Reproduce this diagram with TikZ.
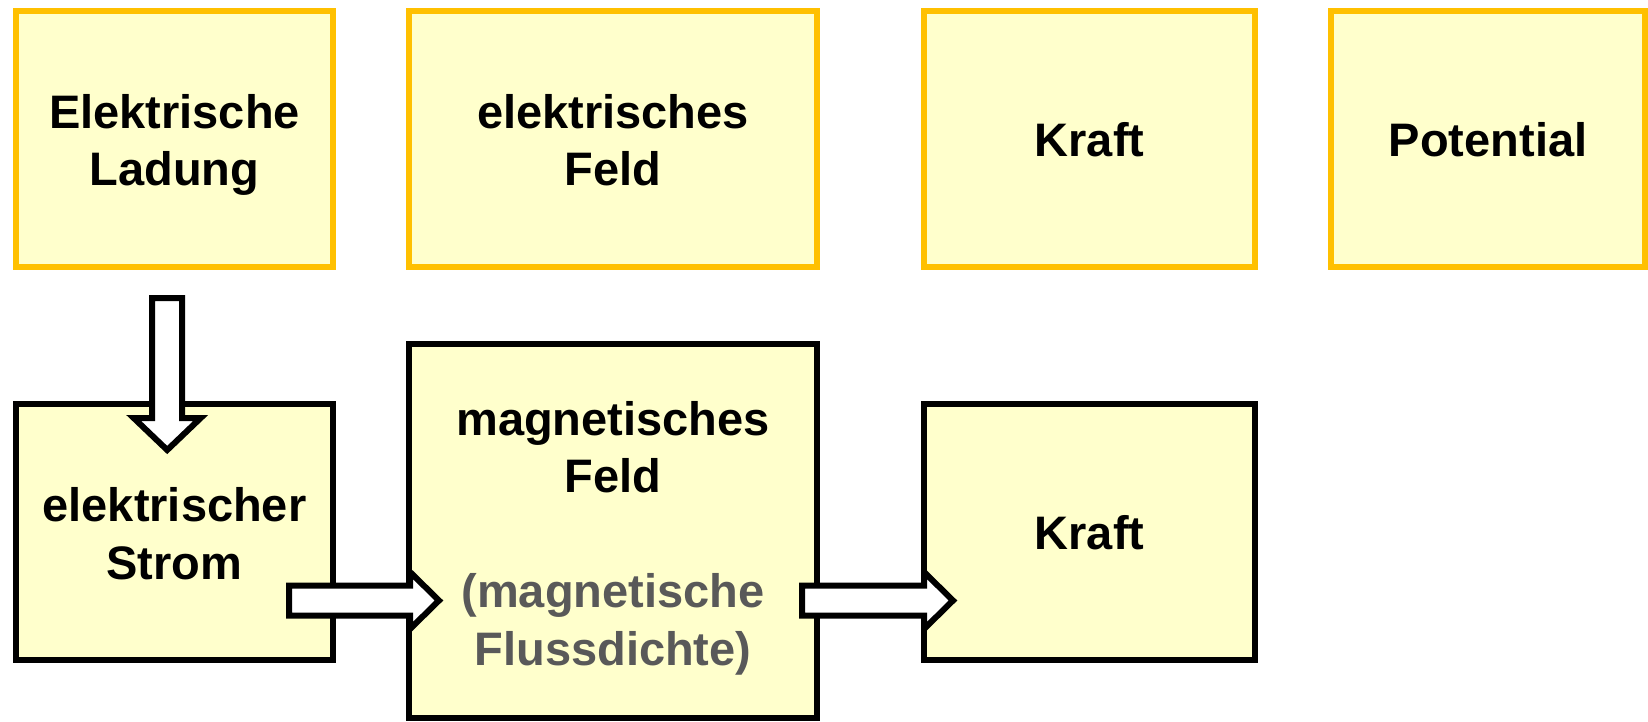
\documentclass[tikz,border=0pt]{standalone}
\usepackage{fontspec}
\setmainfont{Liberation Sans}
\usetikzlibrary{calc}

\definecolor{boxfill}{RGB}{255,255,204}
\definecolor{boxgold}{RGB}{255,192,0}
\definecolor{notegray}{RGB}{89,89,89}

\tikzset{
  basebox/.style={rectangle, fill=boxfill, line width=6pt, outer sep=0pt, inner sep=0pt},
  goldbox/.style={basebox, draw=boxgold},
  blackbox/.style={basebox, draw=black},
  boxtext/.style={font=\fontsize{47}{57.5}\selectfont\bfseries, align=center, inner sep=0pt},
  fatarrow/.style={draw=black, fill=white, line width=6pt, line join=miter},
}

% block arrow pointing right: #1 shaft end, #2 tip (same height)
\newcommand{\rightblockarrow}[2]{%
  \draw[fatarrow] ($(#1)+(0,-15)$) -- ($(#2)+(-29,-15)$) -- ($(#2)+(-29,-28.5)$)
    -- (#2) -- ($(#2)+(-29,28.5)$) -- ($(#2)+(-29,15)$) -- ($(#1)+(0,15)$) -- cycle;}
% block arrow pointing down: #1 shaft end, #2 tip (same x)
\newcommand{\downblockarrow}[2]{%
  \draw[fatarrow] ($(#1)+(-15,0)$) -- ($(#1)+(15,0)$) -- ($(#2)+(15,-32)$)
    -- ($(#2)+(33.5,-32)$) -- (#2) -- ($(#2)+(-33.5,-32)$) -- ($(#2)+(-15,-32)$) -- cycle;}

\begin{document}
\begin{tikzpicture}[x=1pt, y=-1pt]
  \useasboundingbox (0,0) rectangle (1648,721);

  % upper row
  \node[goldbox, minimum width=317pt, minimum height=256pt] (b1) at (174.5,139) {};
  \node[goldbox, minimum width=408pt, minimum height=256pt] (b2) at (613,139) {};
  \node[goldbox, minimum width=331pt, minimum height=256pt] (b3) at (1089.5,139) {};
  \node[goldbox, minimum width=314pt, minimum height=256pt] (b4) at (1488,139) {};

  % lower row
  \node[blackbox, minimum width=317pt, minimum height=256pt] (strom) at (174.5,532) {};
  \node[blackbox, minimum width=408pt, minimum height=374pt] (mag) at (613,531) {};
  \node[blackbox, minimum width=331pt, minimum height=256pt] (kraft2) at (1089.5,532) {};

  % labels
  \node[boxtext] (t1) at ($(b1.center)+(0,5.9)$) {Elektrische\\Ladung};
  \node[boxtext] (t2) at ($(b2.center)+(0,1.2)$) {elektrisches\\Feld};
  \node[boxtext] (t3) at ($(b3.center)+(0,1)$) {Kraft};
  \node[boxtext] (t4) at ($(b4.center)+(0,1)$) {Potential};
  \node[boxtext] (t5) at ($(strom.center)+(0,1.7)$) {elektrischer\\Strom};
  \node[boxtext] (t6) at ($(mag.center)+(0,7.2)$)
    {magnetisches\\Feld\\[57.5pt]\textcolor{notegray}{(magnetische}\\\textcolor{notegray}{Flussdichte)}};
  \node[boxtext] (t7) at ($(kraft2.center)+(0,0.7)$) {Kraft};

  % connector end points
  \coordinate (dS) at ($(b1.south)+(-7.3,31)$);
  \coordinate (dT) at ($(strom.north)+(-7.3,46)$);
  \coordinate (h1S) at ($(strom.east)+(-44,68.5)$);
  \coordinate (h1T) at ($(mag.west)+(30,69.5)$);
  \coordinate (h2S) at ($(mag.east)+(-15,69.5)$);
  \coordinate (h2T) at ($(kraft2.west)+(29,68.5)$);

  % block arrows
  \downblockarrow{dS}{dT}
  \rightblockarrow{h1S}{h1T}
  \rightblockarrow{h2S}{h2T}
\end{tikzpicture}
\end{document}
